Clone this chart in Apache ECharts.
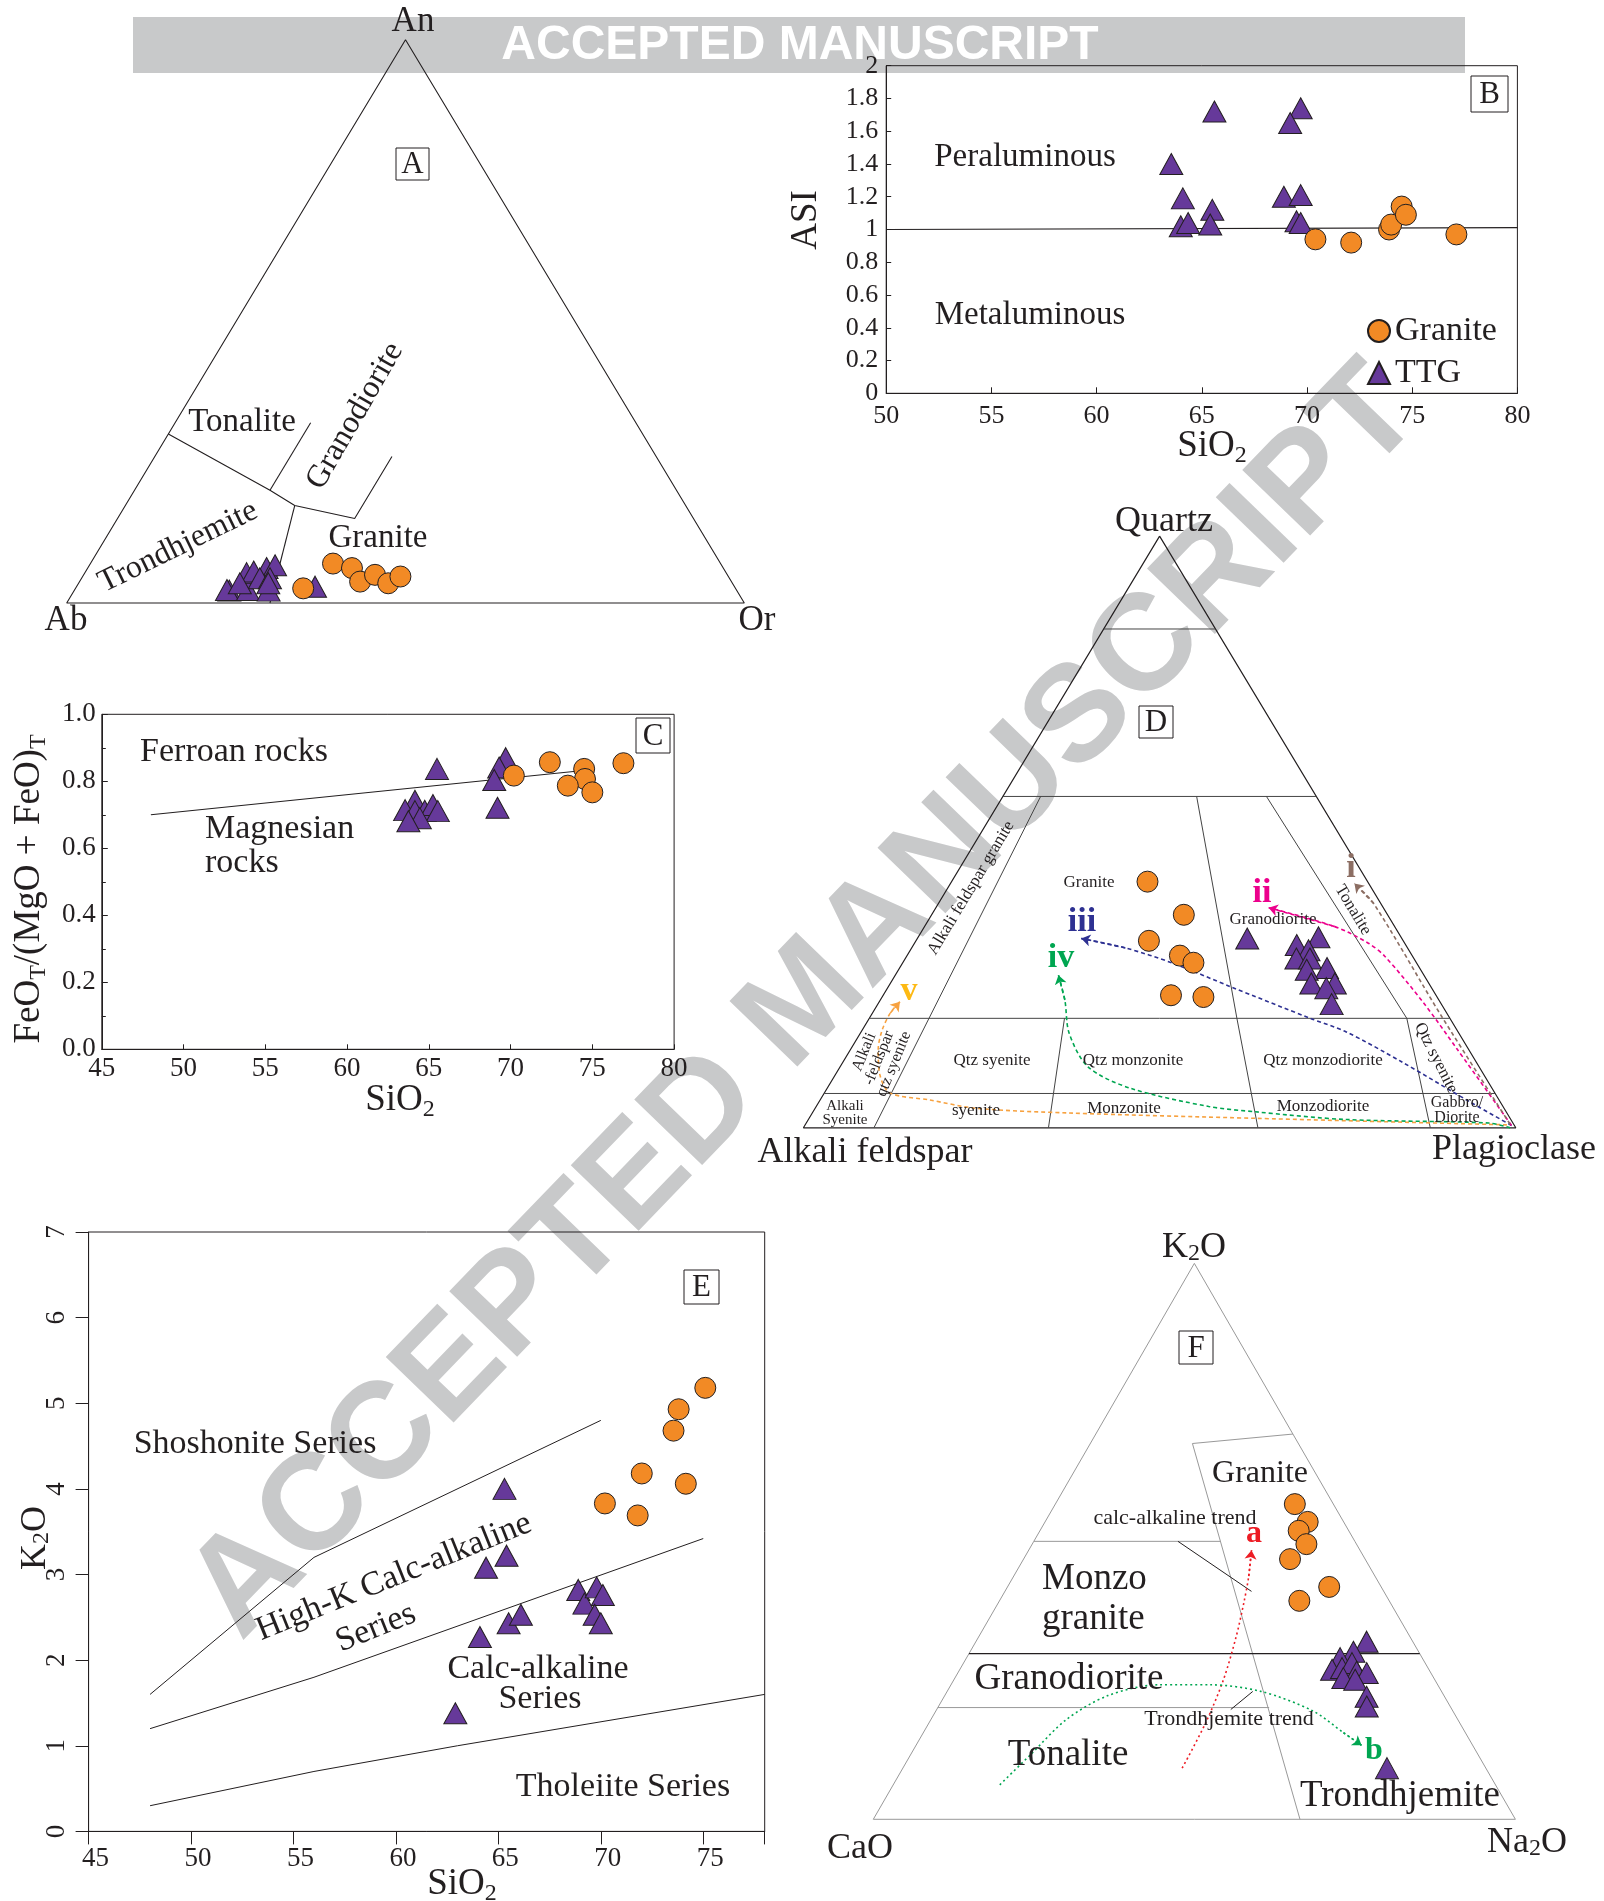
<!DOCTYPE html>
<html>
<head>
<meta charset="utf-8">
<title>Granite and TTG classification diagrams</title>
<script src="https://cdn.jsdelivr.net/npm/echarts/dist/echarts.min.js"></script>
<style>
  body { margin: 0; background: #fff; }
  #main { width: 1604px; height: 1901px; }
</style>
</head>
<body>
<div id="main"></div>
<script>
// ---------- data ----------
// A: An-Ab-Or ternary, points as [An, Ab, Or]
var aGranite = [[2.6,63.8,33.6],[7.0,57.2,35.8],[6.2,54.8,39.0],[3.8,54.8,41.4],[5.0,52.0,43.0],[3.5,50.8,45.7],[4.7,48.4,46.9]];
var aTTG = [[2.2,74.9,22.9],[2.3,75.2,22.5],[2.3,72.1,25.6],[2.2,69.1,28.7],[5.3,70.8,23.9],[5.6,69.6,24.8],[6.2,67.4,26.4],
            [6.7,65.9,27.4],[4.4,69.3,26.3],[4.4,67.8,27.8],[3.5,68.5,28.0],[2.9,61.9,35.2],[3.5,72.7,23.8]];
var aFields = [
  [[30,70,0],[20,60,20],[17.3,57.7,25],[15,50,35],[26,39,35]],
  [[20,60,20],[32,48,20]],
  [[17.3,57.7,25],[0,70,30]]
];

// B: SiO2 vs ASI
var bSiO2Ticks = [50,55,60,65,70,75,80];
var asiTicks = [0,0.2,0.4,0.6,0.8,1,1.2,1.4,1.6,1.8,2];
var bGranite = [[70.4,0.94],[72.1,0.92],[73.9,1.0],[74.0,1.03],[74.5,1.14],[74.7,1.09],[77.1,0.97]];
var bTTG = [[65.6,1.72],[69.7,1.74],[69.2,1.65],[63.55,1.40],[64.1,1.19],[65.5,1.12],[68.9,1.20],
            [69.7,1.21],[64.0,1.02],[64.35,1.04],[65.4,1.03],[69.5,1.05],[69.7,1.04]];
var bLine = [[50,1.0],[80,1.012]];

// C: SiO2 vs FeOt/(MgO+FeOt)
var cSiO2Ticks = [45,50,55,60,65,70,75,80];
var feoTicks = [0,0.2,0.4,0.6,0.8,1.0];
var cGranite = [[70.2,0.817],[72.4,0.857],[74.5,0.837],[74.55,0.807],[73.5,0.787],[75.0,0.767],[76.9,0.854]];
var cTTG = [[65.5,0.837],[69.7,0.869],[69.3,0.841],[69.0,0.804],[69.2,0.721],[64.15,0.742],[63.55,0.714],
            [64.15,0.711],[64.75,0.712],[65.25,0.729],[65.55,0.711],[64.45,0.69],[63.75,0.681]];
var cLine = [[48,0.70],[74,0.83]];

// D: QAP ternary, points as [Q, A, P]
var dGranite = [[41.6,30.9,27.5],[36.0,28.6,35.4],[31.6,35.7,32.7],[29.1,32.6,38.3],[27.9,31.3,40.8],[22.4,37.2,40.4],[22.1,32.8,45.1]];
var dTTG = [[32.0,21.7,46.3],[30.9,15.3,53.8],[32.2,11.6,56.2],[30.0,14.1,55.9],[28.6,16.5,54.9],[28.6,14.6,56.8],
            [27.0,13.0,60.0],[26.7,16.0,57.3],[24.4,16.5,59.1],[24.4,13.2,62.4],[23.6,14.8,61.6],[20.9,15.4,63.7]];
var dFields = [
  [[84.3,15.7,0],[84.3,0,15.7]],
  [[56,44,0],[56,0,44]],
  [[18.5,81.5,0],[18.5,0,81.5]],
  [[5.8,94.2,0],[5.8,0,94.2]],
  [[56,38.7,5.3],[0,90.1,9.9]],
  [[56,16.8,27.2],[18.5,29.9,51.6],[0,36.2,63.8]],
  [[56,7.0,37.0],[18.5,6.05,75.45],[0,12,88]],
  [[18.5,54.1,27.4],[0,65.6,34.4]]
];
var dTrendI = [[0.6,0.5,98.9],[19,1,80],[37.9,1,61.1],[41.3,2,56.7]];
var dTrendII = [[0.4,0.4,99.2],[13.4,1.6,85.0],[21.2,2.4,76.4],[29.0,3.9,67.1],[31.2,5.1,63.7],[34.0,8.4,57.6],[37.2,16.1,46.7]];
var dTrendIII = [[0.4,0.4,99.2],[4.1,4.0,91.9],[11.2,10.5,78.3],[16.2,15.7,68.1],[18.5,19.6,61.9],[23.9,28.2,47.9],
                 [27.8,34.2,38.0],[30.4,39.6,30.0],[32.0,45.0,23.0]];
var dTrendIV = [[0,0.8,99.2],[0.8,3.4,95.8],[1.4,23.1,75.5],[2.7,35.2,62.1],[3.6,41.3,55.1],[6.7,50.8,42.5],
                [10.3,54.9,34.8],[16.0,54.7,29.3],[21.6,52.5,25.9],[25.8,51.3,22.9]];
var dTrendV = [[0.5,1.0,98.5],[1.6,35.7,62.7],[2.5,61.4,36.1],[3.3,74.1,22.6],[4.7,79.9,15.4],[5.9,84.9,9.2],
               [8.9,84.8,6.3],[13.2,82.9,3.9],[16.5,80.7,2.8],[19.4,78.1,2.5],[21.3,75.8,2.9]];

// E: SiO2 vs K2O
var eSiO2Ticks = [45,50,55,60,65,70,75];
var k2oTicks = [0,1,2,3,4,5,6,7];
var eGranite = [[70.2,3.83],[71.8,3.69],[72.0,4.18],[73.55,4.68],[73.8,4.93],[75.1,5.18],[74.15,4.06]];
var eTTG = [[65.3,4.0],[65.4,3.22],[64.4,3.08],[65.5,2.43],[66.1,2.53],[64.1,2.27],[62.9,1.38],
            [68.9,2.82],[69.2,2.66],[69.8,2.85],[70.1,2.76],[69.7,2.53],[70.0,2.43]];
var eLines = [
  [[48,1.6],[56,3.2],[70,4.8]],
  [[48,1.2],[56,1.8],[75,3.42]],
  [[48,0.3],[56,0.7],[63,1.0],[78,1.6]]
];

// F: K2O-CaO-Na2O ternary, points as [K2O, CaO, Na2O]
var fGranite = [[56.7,6.0,37.3],[53.5,5.6,40.9],[51.9,7.8,40.3],[49.5,7.8,42.7],[46.8,11.7,41.5],[41.8,8.1,50.1],[39.3,14.0,46.7]];
var fTTG = [[31.95,7.2,60.85],[30.15,10.15,59.7],[29.0,12.8,58.2],[26.9,15.1,58.0],[27.2,13.4,59.4],[28.1,11.4,60.5],
            [26.55,11.45,62.0],[26.3,10.0,63.7],[25.4,14.1,60.5],[25.1,12.4,62.5],[22.05,12.15,65.8],[20.3,13.0,66.7],[9.2,15.4,75.4]];
var fFields = [
  [[69.3,0,30.7],[67.6,16.5,15.9],[0,33.55,66.45]],
  [[50,50,0],[50,20.9,29.1]],
  [[20.1,79.9,0],[20.1,28.3,51.6]]
];
var fMainLine = [[29.8,70.2,0],[29.8,0,70.2]];
var fTrendA = [[9.2,47.3,43.5],[17.2,39.7,43.1],[25.0,33.0,42.0],[32.8,27.1,40.1],[39.05,22.75,38.2],[43.75,19.65,36.6],[48.4,16.9,34.7]];
var fTrendB = [[6.2,77.2,16.6],[11.7,69.6,18.7],[17.95,60.95,21.1],[22.25,52.35,25.4],[24.2,43.4,32.4],
               [24.2,35.4,40.4],[23.0,28.1,48.9],[19.5,21.8,58.7],[15.6,19.0,65.4],[13.3,17.3,69.4]];
var fLeaders = [
  [[50,27.55,22.45],[41.0,20.6,38.4]],
  [[19.75,34.45,45.8],[23.0,29.4,47.6]]
];

var corners = [[100,0,0],[0,100,0],[0,0,100],[100,0,0]];

// ---------- styles ----------
var ORANGE = '#F28A25', PURPLE = '#66399A', INK = '#231F20', WM = '#C8C9CA';
var SERIF = '"Liberation Serif", "Times New Roman", serif';
var SANS = '"Liberation Sans", Arial, sans-serif';

// ternary [top, left, right] -> x,y in a 0..1 box
function ternXY(p) {
  var s = p[0] + p[1] + p[2];
  var t = p[0] / s, r = p[2] / s;
  return [r + t / 2, t];
}

var myChart = echarts.init(document.getElementById('main'));

// grids: 0 A, 1 B, 2 C, 3 D, 4 E, 5 F
var boxed = {show: true, borderColor: INK, borderWidth: 1, backgroundColor: 'transparent'};
var grids = [
  {left: 66.7, top: 39.7, width: 677.6, height: 563.3},
  Object.assign({left: 886.2, top: 65.7, width: 631.2, height: 327.6}, boxed),
  Object.assign({left: 101.8, top: 714.3, width: 572.3, height: 335}, boxed),
  {left: 803.4, top: 536.1, width: 712.4, height: 591.7},
  Object.assign({left: 88.6, top: 1232, width: 676.1, height: 599.4}, boxed),
  {left: 873.3, top: 1263.4, width: 642.1, height: 555.9}
];

function hiddenAxis(gi) {
  return {gridIndex: gi, type: 'value', min: 0, max: 1, show: false};
}

function valueAxis(gi, ticks, o) {
  var fmt = o.fmt || function (t) { return String(t); };
  return {
    gridIndex: gi, type: 'value',
    min: ticks[0], max: o.max !== undefined ? o.max : ticks[ticks.length - 1],
    interval: ticks[1] - ticks[0],
    axisLine: {onZero: false, lineStyle: {color: INK, width: 1}},
    axisTick: {inside: o.inside, length: o.tick, lineStyle: {color: INK}},
    minorTick: {show: !!o.minor, splitNumber: 2, length: 4, lineStyle: {color: INK}},
    axisLabel: {
      color: INK, fontFamily: SERIF, fontSize: o.font || 26, margin: o.margin, rotate: o.rotate || 0,
      padding: o.padding || 0,
      formatter: function (v) {
        for (var i = 0; i < ticks.length; i++) {
          if (Math.abs(ticks[i] - v) < 1e-6) return fmt(ticks[i]);
        }
        return '';
      }
    },
    splitLine: {show: false}
  };
}

var xAxes = [
  hiddenAxis(0),
  valueAxis(1, bSiO2Ticks, {inside: true, tick: 6, margin: 10}),
  valueAxis(2, cSiO2Ticks, {inside: true, tick: 5, margin: 6, font: 27}),
  hiddenAxis(3),
  valueAxis(4, eSiO2Ticks, {inside: false, tick: 13, margin: 14, font: 27, max: 78, padding: [0, 0, 0, 14]}),
  hiddenAxis(5)
];
var yAxes = [
  hiddenAxis(0),
  valueAxis(1, asiTicks, {inside: true, tick: 5, margin: 8}),
  valueAxis(2, feoTicks, {inside: true, tick: 6, margin: 6, font: 27, minor: true,
                          fmt: function (t) { return t.toFixed(1); }}),
  hiddenAxis(3),
  valueAxis(4, k2oTicks, {inside: false, tick: 13, margin: 18, font: 27, rotate: 90}),
  hiddenAxis(5)
];

// ---------- series helpers ----------
function plainLine(gi, pts, color, width, tern) {
  return {
    type: 'line', xAxisIndex: gi, yAxisIndex: gi, silent: true, clip: false,
    data: tern ? pts.map(ternXY) : pts, symbol: 'none', z: 3,
    lineStyle: {color: color, width: width}
  };
}

function trend(gi, pts, color, dash) {
  var xy = pts.map(ternXY);
  return [{
    type: 'line', xAxisIndex: gi, yAxisIndex: gi, silent: true, clip: false,
    data: xy, symbol: 'none', smooth: 0.3, z: 3,
    lineStyle: {color: color, width: 1.6, type: dash}
  }, {
    type: 'lines', coordinateSystem: 'cartesian2d', xAxisIndex: gi, yAxisIndex: gi, silent: true,
    symbol: ['none', 'arrow'], symbolSize: 9, z: 3,
    lineStyle: {color: color, width: 1.6, type: dash, opacity: 1},
    data: [{coords: [xy[xy.length - 2], xy[xy.length - 1]]}]
  }];
}

function dots(gi, name, pts, tern) {
  var isGranite = name === 'Granite';
  return {
    type: 'scatter', name: name, xAxisIndex: gi, yAxisIndex: gi, clip: false,
    data: tern ? pts.map(ternXY) : pts,
    symbol: isGranite ? 'circle' : 'triangle',
    symbolSize: isGranite ? 21 : [23, 21],
    z: isGranite ? 6 : 5,
    itemStyle: {color: isGranite ? ORANGE : PURPLE, borderColor: INK, borderWidth: 1, opacity: 1}
  };
}

var series = [];
// A
series.push(plainLine(0, corners, INK, 1.1, true));
aFields.forEach(function (f) { series.push(plainLine(0, f, INK, 1.1, true)); });
series.push(dots(0, 'TTG', aTTG, true), dots(0, 'Granite', aGranite, true));
// B
series.push(plainLine(1, bLine, INK, 1.2, false));
series.push(dots(1, 'TTG', bTTG, false), dots(1, 'Granite', bGranite, false));
// C
series.push(plainLine(2, cLine, INK, 1.1, false));
series.push(dots(2, 'TTG', cTTG, false), dots(2, 'Granite', cGranite, false));
// D
series.push(plainLine(3, corners, INK, 1.2, true));
dFields.forEach(function (f) { series.push(plainLine(3, f, '#444', 1, true)); });
series = series.concat(trend(3, dTrendV, '#F7A240', [4, 3]));
series = series.concat(trend(3, dTrendIV, '#00A651', [4, 3]));
series = series.concat(trend(3, dTrendIII, '#2E3192', [4, 3]));
series = series.concat(trend(3, dTrendII, '#EC008C', [4, 3]));
series = series.concat(trend(3, dTrendI, '#8C6E63', [4, 3]));
series.push(dots(3, 'TTG', dTTG, true), dots(3, 'Granite', dGranite, true));
// E
eLines.forEach(function (l) { series.push(plainLine(4, l, INK, 1, false)); });
series.push(dots(4, 'TTG', eTTG, false), dots(4, 'Granite', eGranite, false));
// F
series.push(plainLine(5, corners, '#999', 1, true));
fFields.forEach(function (f) { series.push(plainLine(5, f, '#999', 1, true)); });
series.push(plainLine(5, fMainLine, INK, 1.2, true));
fLeaders.forEach(function (f) { series.push(plainLine(5, f, INK, 1, true)); });
series = series.concat(trend(5, fTrendA, '#ED1C24', [2, 3]));
series = series.concat(trend(5, fTrendB, '#00A651', [2, 3]));
series.push(dots(5, 'TTG', fTTG, true), dots(5, 'Granite', fGranite, true));

// ---------- texts ----------
function label(x, y, text, size, o) {
  o = o || {};
  var el = {
    type: 'text', x: x, y: y, z: 100, silent: true,
    rotation: (o.rotate || 0) * Math.PI / 180,
    style: {
      text: text, fontFamily: SERIF, fontSize: size, fill: o.color || INK,
      fontWeight: o.bold ? 'bold' : 'normal',
      align: o.align || 'center', verticalAlign: 'middle'
    }
  };
  if (o.lineHeight) el.style.lineHeight = o.lineHeight;
  if (o.rich) el.style.rich = o.rich;
  return el;
}

function subRich(size, subSize, drop) {
  var h = 2 * drop + subSize;
  return {
    n: {fontSize: size, fontFamily: SERIF, fill: INK, color: INK, lineHeight: h, verticalAlign: 'middle'},
    s: {fontSize: subSize, fontFamily: SERIF, fill: INK, color: INK, lineHeight: subSize, verticalAlign: 'bottom'}
  };
}

function letterBox(x, y, w, h, letter) {
  return [{
    type: 'rect', z: 100, silent: true,
    shape: {x: x, y: y, width: w, height: h},
    style: {fill: '#fff', stroke: INK, lineWidth: 1}
  }, label(x + w / 2, y + h / 2 + 1, letter, 31)];
}

var sio2Rich = subRich(37, 24, 10);
var oxRich = subRich(36, 24, 6);

var texts = [
  // background banner and watermark
  {type: 'rect', z: -10, silent: true, shape: {x: 133, y: 17, width: 1332, height: 56}, style: {fill: WM}},
  {type: 'text', z: -9, silent: true, x: 800, y: 46,
   style: {text: 'ACCEPTED MANUSCRIPT', fontFamily: SANS, fontWeight: 'bold', fontSize: 48, fill: '#fff',
           align: 'center', verticalAlign: 'middle'}},
  {type: 'text', z: -10, silent: true, x: 806, y: 1003, rotation: 46 * Math.PI / 180,
   style: {text: 'ACCEPTED MANUSCRIPT', fontFamily: SANS, fontWeight: 'bold', fontSize: 137, fill: WM,
           align: 'center', verticalAlign: 'middle'}},

  // A
  label(413, 22, 'An', 35), label(66, 621, 'Ab', 35), label(757, 621, 'Or', 35),
  label(242, 422, 'Tonalite', 33),
  label(355, 416, 'Granodiorite', 32, {rotate: 60}),
  label(178, 547, 'Trondhjemite', 32, {rotate: 26}),
  label(378, 538, 'Granite', 33),

  // B
  label(806, 220, 'ASI', 37, {rotate: 90}),
  label(1212, 446, '{n|SiO}{s|2}', 37, {rich: sio2Rich}),
  label(1025, 157, 'Peraluminous', 33),
  label(1030, 315, 'Metaluminous', 33),

  // C
  label(29, 889, '{n|FeO}{s|T}{n|/(MgO + FeO)}{s|T}', 37, {rotate: 90, rich: sio2Rich}),
  label(400, 1100, '{n|SiO}{s|2}', 37, {rich: sio2Rich}),
  label(234, 752, 'Ferroan rocks', 34),
  label(205, 829, 'Magnesian', 34, {align: 'left'}),
  label(205, 863, 'rocks', 34, {align: 'left'}),

  // D
  label(1164, 522, 'Quartz', 36),
  label(865, 1153, 'Alkali feldspar', 36),
  label(1514, 1150, 'Plagioclase', 36),
  label(971, 888, 'Alkali feldspar granite', 17, {rotate: 59}),
  label(1089, 883, 'Granite', 17),
  label(1273, 920, 'Granodiorite', 17),
  label(1353, 910, 'Tonalite', 17, {rotate: -59}),
  label(992, 1061, 'Qtz syenite', 17),
  label(1133, 1061, 'Qtz monzonite', 17),
  label(1323, 1061, 'Qtz monzodiorite', 17),
  label(1436, 1058, 'Qtz syenite', 17, {rotate: -63}),
  label(879, 1058, 'Alkali\n-feldspar\nqtz syenite', 16, {rotate: 68, lineHeight: 16}),
  label(845, 1113, 'Alkali\nSyenite', 15, {lineHeight: 14}),
  label(976, 1111, 'syenite', 17),
  label(1124, 1109, 'Monzonite', 17),
  label(1323, 1107, 'Monzodiorite', 17),
  label(1457, 1110, 'Gabbro/\nDiorite', 16, {lineHeight: 15}),
  label(1351, 868, 'i', 34, {bold: true, color: '#8C6E63'}),
  label(1262, 893, 'ii', 34, {bold: true, color: '#EC008C'}),
  label(1082, 922, 'iii', 34, {bold: true, color: '#2E3192'}),
  label(1061, 958, 'iv', 34, {bold: true, color: '#00A651'}),
  label(909, 991, 'v', 34, {bold: true, color: '#FDB913'}),

  // E
  label(36, 1538, '{n|K}{s|2}{n|O}', 36, {rotate: 90, rich: oxRich}),
  label(462, 1884, '{n|SiO}{s|2}', 37, {rich: sio2Rich}),
  label(255, 1444, 'Shoshonite Series', 34),
  label(394, 1577, 'High-K Calc-alkaline', 34, {rotate: 22}),
  label(376, 1628, 'Series', 34, {rotate: 22}),
  label(538, 1669, 'Calc-alkaline', 34),
  label(540, 1699, 'Series', 34),
  label(623, 1787, 'Tholeiite Series', 34),

  // F
  label(1194, 1248, '{n|K}{s|2}{n|O}', 36, {rich: oxRich}),
  label(860, 1849, 'CaO', 36),
  label(1527, 1843, '{n|Na}{s|2}{n|O}', 36, {rich: oxRich}),
  label(1260, 1474, 'Granite', 32),
  label(1175, 1518, 'calc-alkaline trend', 22),
  label(1254, 1534, 'a', 32, {bold: true, color: '#ED1C24'}),
  label(1042, 1579, 'Monzo', 37, {align: 'left'}),
  label(1042, 1619, 'granite', 37, {align: 'left'}),
  label(1069, 1679, 'Granodiorite', 37),
  label(1229, 1719, 'Trondhjemite trend', 22),
  label(1374, 1751, 'b', 32, {bold: true, color: '#00A651'}),
  label(1068, 1755, 'Tonalite', 37),
  label(1400, 1796, 'Trondhjemite', 37)
];
texts = texts
  .concat(letterBox(396, 148, 33, 32, 'A'))
  .concat(letterBox(1471, 76, 37, 36, 'B'))
  .concat(letterBox(636, 718, 34, 35, 'C'))
  .concat(letterBox(1139, 706, 34, 32, 'D'))
  .concat(letterBox(684, 1270, 35, 34, 'E'))
  .concat(letterBox(1179, 1331, 34, 33, 'F'));

var option = {
  animation: false,
  backgroundColor: '#fff',
  textStyle: {fontFamily: SERIF},
  grid: grids,
  xAxis: xAxes,
  yAxis: yAxes,
  legend: {
    left: 1362, top: 309, orient: 'vertical',
    itemWidth: 22, itemHeight: 22, itemGap: 8, selectedMode: false,
    textStyle: {fontFamily: SERIF, fontSize: 34, color: INK},
    data: [{name: 'Granite', icon: 'circle'}, {name: 'TTG', icon: 'triangle'}]
  },
  graphic: {elements: texts},
  series: series
};

myChart.setOption(option);
</script>
</body>
</html>
